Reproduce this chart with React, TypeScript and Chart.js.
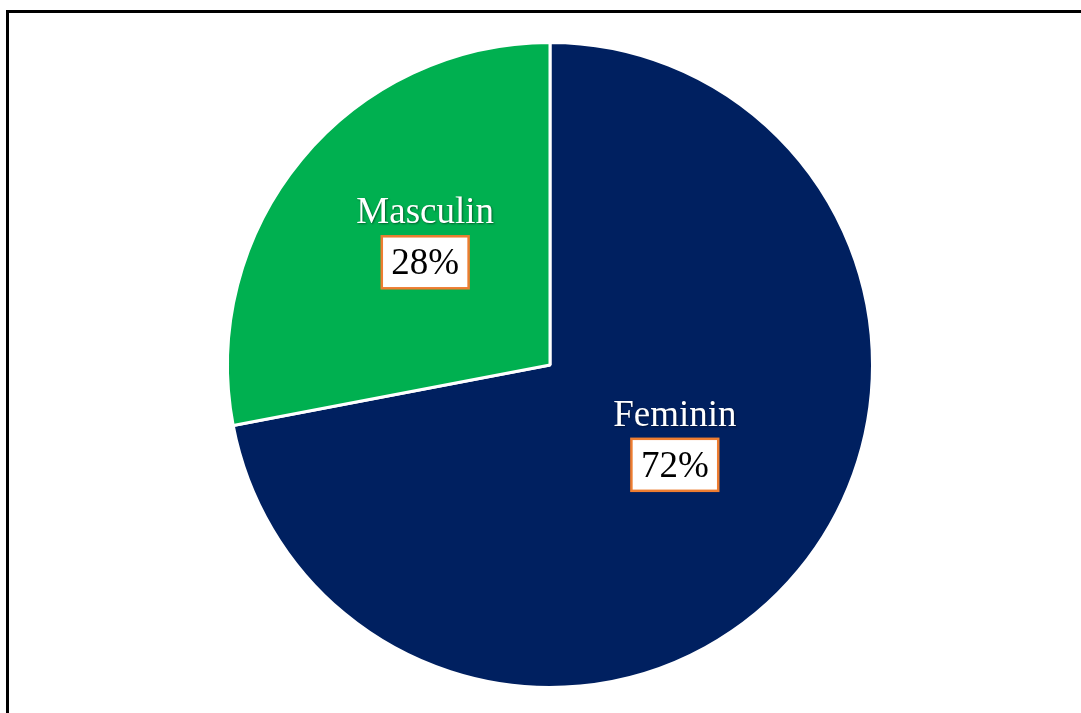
import React, { useEffect, useRef } from "react";
import { Chart, registerables } from "chart.js";

Chart.register(...registerables);

const categories = ["Feminin", "Masculin"];
const values = [72, 28];
const sliceColors = ["#002060", "#00B050"];
// label anchor offsets as fractions of the pie radius (dx, dy)
const labelOffsetX = [0.387, -0.387];
const labelOffsetY = [0.232, -0.396];

const FONT = '"Liberation Serif", "Times New Roman", serif';

const labelPlugin = {
  id: "pieLabels",
  afterDatasetsDraw(chart: any) {
    const ctx = chart.ctx;
    const meta = chart.getDatasetMeta(0);
    const total = values.reduce((a, b) => a + b, 0);
    meta.data.forEach((arc: any, i: number) => {
      const r = arc.outerRadius;
      const ax = arc.x + labelOffsetX[i] * r;
      const ay = arc.y + labelOffsetY[i] * r;
      const fontSize = 37;
      ctx.save();
      ctx.font = `${fontSize}px ${FONT}`;
      ctx.textAlign = "center";
      ctx.textBaseline = "middle";
      // category name with shadow
      ctx.shadowColor = "rgba(0,0,0,0.45)";
      ctx.shadowOffsetX = 1;
      ctx.shadowOffsetY = 1;
      ctx.shadowBlur = 2;
      ctx.fillStyle = "#ffffff";
      ctx.fillText(categories[i], ax, ay - 24);
      ctx.shadowColor = "transparent";
      // percentage box
      const pct = Math.round((values[i] / total) * 100) + "%";
      const tw = ctx.measureText(pct).width;
      const bw = tw + 19;
      const bh = 52;
      const bx = ax - bw / 2;
      const by = ay + 25 - bh / 2;
      ctx.fillStyle = "#ffffff";
      ctx.fillRect(bx, by, bw, bh);
      ctx.strokeStyle = "#ED7D31";
      ctx.lineWidth = 2.5;
      ctx.strokeRect(bx, by, bw, bh);
      ctx.fillStyle = "#000000";
      ctx.fillText(pct, ax, ay + 27);
      ctx.restore();
    });
  },
};

export default function App() {
  const canvasRef = useRef<HTMLCanvasElement | null>(null);

  useEffect(() => {
    if (!canvasRef.current) return;
    const chart = new Chart(canvasRef.current, {
      type: "pie",
      data: {
        labels: categories,
        datasets: [
          {
            data: values,
            backgroundColor: sliceColors,
            borderColor: "#ffffff",
            borderWidth: 3,
          },
        ],
      },
      options: {
        animation: false,
        responsive: false,
        maintainAspectRatio: false,
        layout: { padding: { top: 41, bottom: 24, left: 19, right: 0 } },
        plugins: {
          legend: { display: false },
          tooltip: { enabled: false },
        },
      },
      plugins: [labelPlugin],
    });
    return () => chart.destroy();
  }, []);

  return (
    <div
      style={{
        position: "fixed",
        left: 0,
        top: 0,
        width: 1081,
        height: 713,
        overflow: "hidden",
        background: "#ffffff",
      }}
    >
      <div
        style={{
          position: "absolute",
          left: 6,
          top: 10,
          width: 1200,
          height: 800,
          border: "3px solid #000000",
        }}
      />
      <canvas
        ref={canvasRef}
        width={1081}
        height={713}
        style={{ position: "absolute", left: 0, top: 0, width: 1081, height: 713 }}
      />
    </div>
  );
}
